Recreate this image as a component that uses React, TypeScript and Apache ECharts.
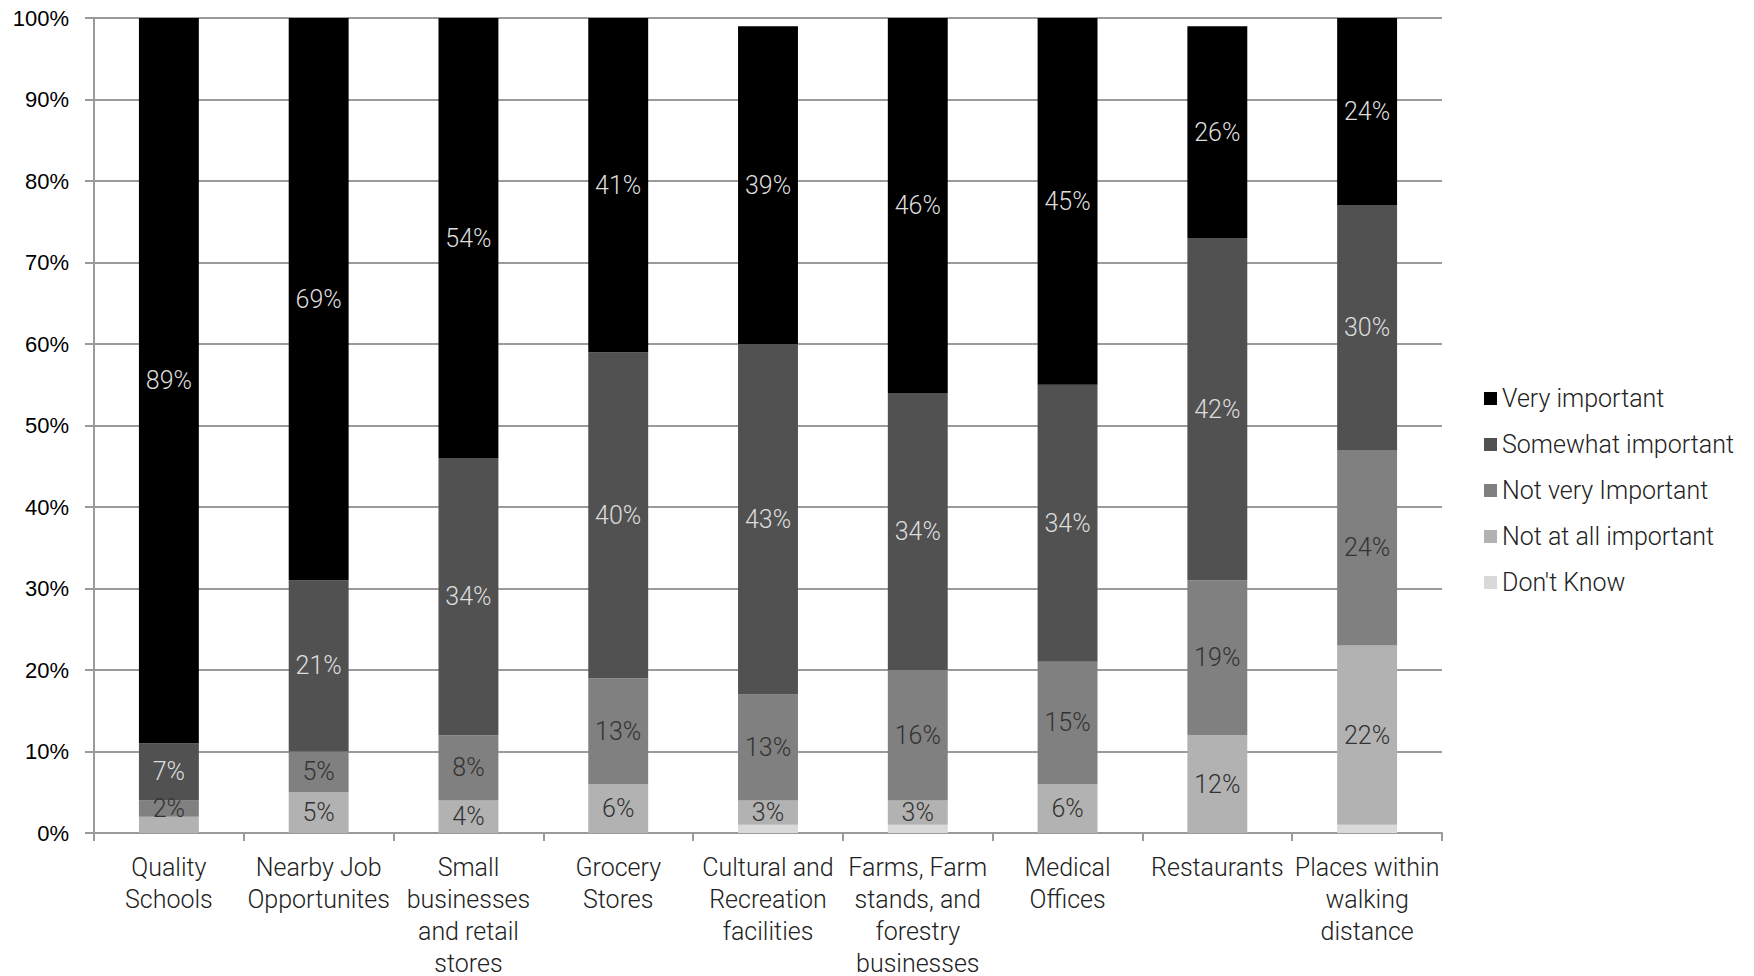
import React, { useEffect, useRef } from "react";
import * as echarts from "echarts";

const categories = [
  "Quality\nSchools",
  "Nearby Job\nOpportunites",
  "Small\nbusinesses\nand retail\nstores",
  "Grocery\nStores",
  "Cultural and\nRecreation\nfacilities",
  "Farms, Farm\nstands, and\nforestry\nbusinesses",
  "Medical\nOffices",
  "Restaurants",
  "Places within\nwalking\ndistance",
];

const seriesNames = [
  "Don't Know",
  "Not at all important",
  "Not very Important",
  "Somewhat important",
  "Very important",
];

const dontKnow = [0, 0, 0, 0, 1, 1, 0, 0, 1];
const notAtAll = [2, 5, 4, 6, 3, 3, 6, 12, 22];
const notVery = [2, 5, 8, 13, 13, 16, 15, 19, 24];
const somewhat = [7, 21, 34, 40, 43, 34, 34, 42, 30];
const very = [89, 69, 54, 41, 39, 46, 45, 26, 24];

// segments whose value label is left off (too thin to fit next to its neighbour)
const hiddenNotAtAllLabels = [0];

const yTicks = [0, 10, 20, 30, 40, 50, 60, 70, 80, 90, 100];

const colors = ["#d9d9d9", "#b2b2b2", "#808080", "#515151", "#000000"];
const labelColors = ["#333333", "#333333", "#333333", "#dddddd", "#dddddd"];

const legendOrder = [
  "Very important",
  "Somewhat important",
  "Not very Important",
  "Not at all important",
  "Don't Know",
];

const FONT = "Roboto";

export default function App() {
  const ref = useRef<HTMLDivElement>(null);

  useEffect(() => {
    if (!ref.current) return;
    const chart = echarts.init(ref.current, undefined, { renderer: "svg" });
    const values = [dontKnow, notAtAll, notVery, somewhat, very];

    const series = values.map((vals, si) => ({
      name: seriesNames[si],
      type: "bar",
      stack: "total",
      barCategoryGap: "60%",
      itemStyle: { color: colors[si] },
      label: {
        show: si !== 0,
        position: "inside",
        color: labelColors[si],
        fontFamily: FONT,
        fontWeight: 300,
        fontSize: 25,
        formatter: (p: any) => (p.value > 0 ? `${p.value}%` : ""),
      },
      data: vals.map((v, i) =>
        si === 1 && hiddenNotAtAllLabels.includes(i)
          ? { value: v, label: { show: false } }
          : v
      ),
    }));

    chart.setOption({
      animation: false,
      backgroundColor: "#ffffff",
      grid: {
        left: 94,
        right: 312,
        top: 18,
        bottom: 143,
        containLabel: false,
        outerBoundsMode: "none",
      },
      legend: {
        orient: "vertical",
        left: 1479,
        top: 381,
        itemWidth: 13,
        itemHeight: 13,
        itemGap: 21,
        icon: "rect",
        data: legendOrder,
        textStyle: { fontFamily: FONT, fontWeight: 300, fontSize: 25, color: "#222" },
      },
      xAxis: {
        type: "category",
        data: categories,
        axisLine: { lineStyle: { color: "#9a9a9a", width: 2 } },
        axisTick: { show: true, length: 8, lineStyle: { color: "#9a9a9a", width: 2 } },
        axisLabel: {
          interval: 0,
          margin: 18,
          fontFamily: FONT,
          fontWeight: 300,
          fontSize: 25,
          lineHeight: 32,
          color: "#222",
        },
      },
      yAxis: {
        type: "value",
        min: 0,
        max: 100,
        interval: 10,
        axisLine: { show: true, lineStyle: { color: "#9a9a9a", width: 2 } },
        axisTick: { show: true, length: 9, lineStyle: { color: "#9a9a9a", width: 2 } },
        splitLine: { lineStyle: { color: "#9a9a9a", width: 2 } },
        axisLabel: {
          margin: 25,
          fontFamily: "Liberation Sans",
          fontSize: 22,
          color: "#000",
          formatter: (v: number) => (yTicks.includes(v) ? `${v}%` : ""),
        },
      },
      series,
    });

    return () => chart.dispose();
  }, []);

  return (
    <div
      ref={ref}
      style={{ position: "fixed", left: 0, top: 0, width: 1754, height: 976 }}
    />
  );
}
